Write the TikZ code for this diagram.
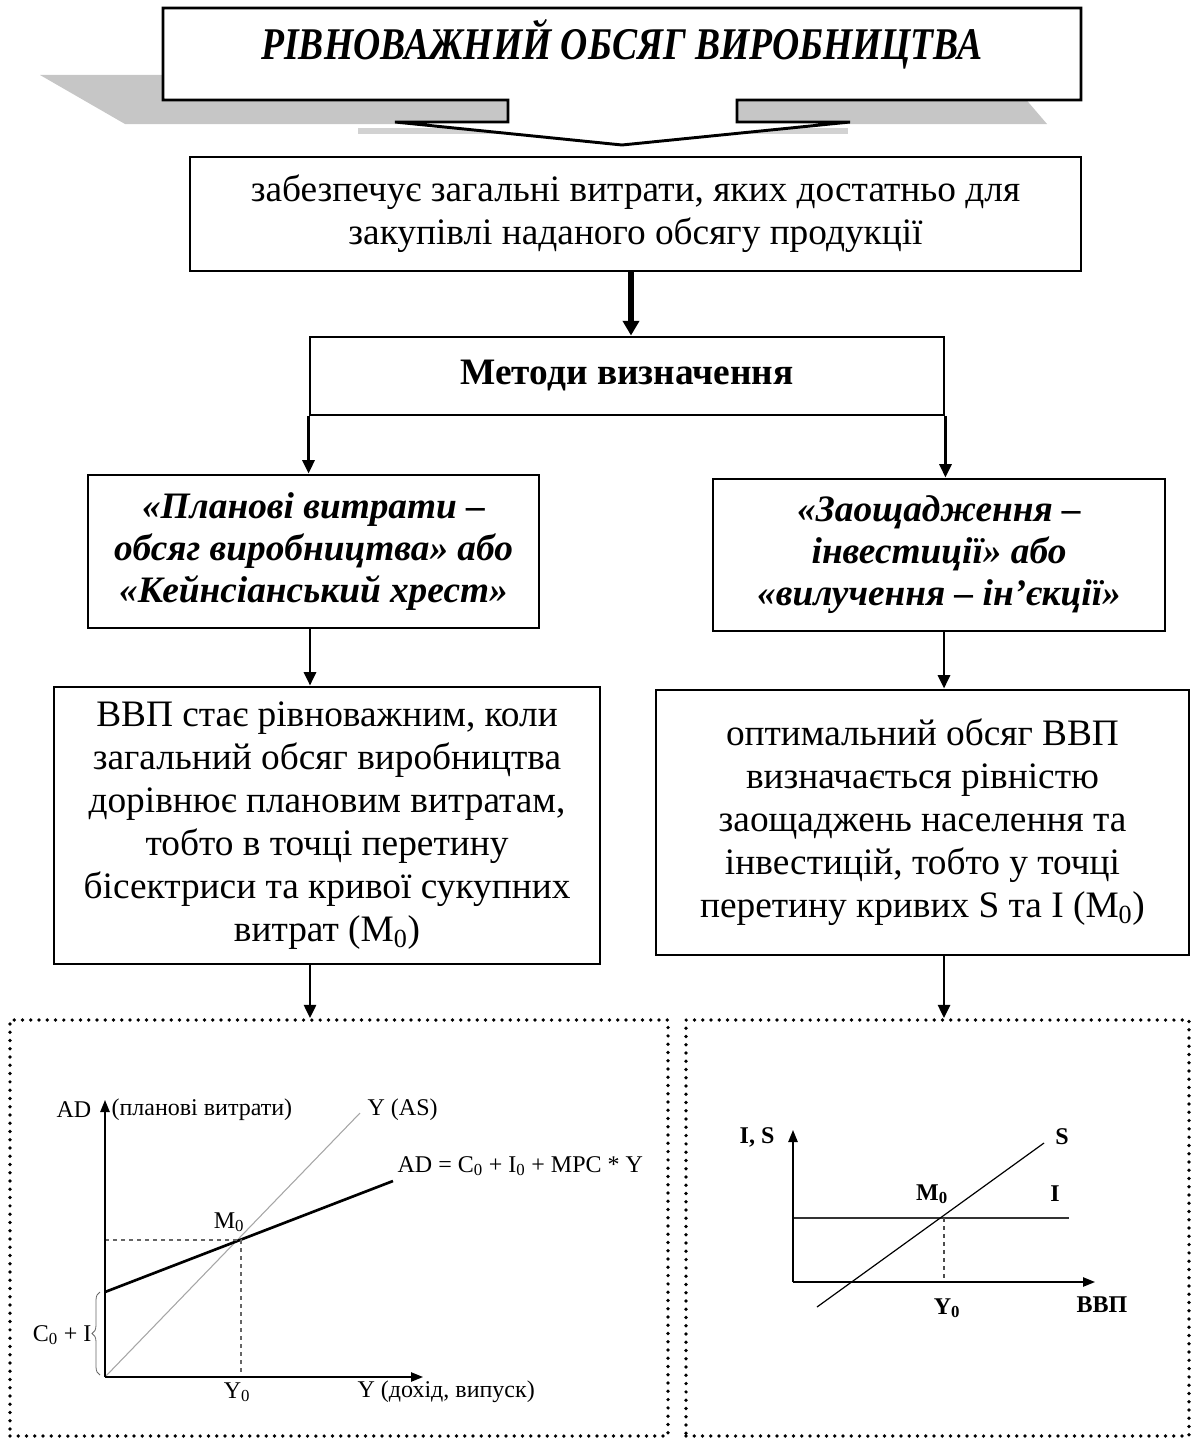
\documentclass[tikz,border=0pt]{standalone}
\usepackage{fontspec}
\setmainfont{Liberation Serif}
\usetikzlibrary{arrows.meta, positioning, decorations.pathreplacing}

\newdimen\px
\px=0.75pt

\begin{document}
\begin{tikzpicture}[
        x=0.75pt, y=-0.75pt,
        box/.style={draw, line width=2.2pt, align=center, inner sep=0pt},
        bodytext/.style={font=\fontsize{28}{32.3}\selectfont},
        headtext/.style={font=\fontsize{28}{31.5}\selectfont\bfseries\itshape},
        dotbox/.style={draw, line width=2.8pt, dash pattern=on 0pt off 6.2pt, line cap=round},
        arr/.style={-{Triangle[length=10pt, width=9pt]}, line width=2.2pt},
        axis/.style={-{Triangle[length=9pt, width=7pt]}, line width=1.1pt},
        lbl/.style={font=\fontsize{18}{21}\selectfont, inner sep=1pt},
        blbl/.style={font=\fontsize{18}{21}\selectfont\bfseries, inner sep=1pt}
        ]
        \useasboundingbox (0,0) rectangle (1190,1438);

        % title callout with its shadow
        \fill[gray!45] (40,75) -- (1005,75) -- (1047,124) -- (125,124) -- cycle;
        \draw[gray!35, line width=4pt] (358,131) -- (848,131);
        \draw[line width=2.2pt, fill=white, line join=miter]
            (163,8) -- (1081,8) -- (1081,100) -- (737,100) -- (737,122) -- (850,122)
            -- (622,145) -- (395,122) -- (508,122) -- (508,100) -- (163,100) -- cycle;
        \node (title) at (622,44) {\fontsize{34}{40}\selectfont\bfseries\itshape
            \scalebox{0.83}[1]{РІВНОВАЖНИЙ ОБСЯГ ВИРОБНИЦТВА}};

        % definition
        \node[box, bodytext, minimum width=891*\px, minimum height=114*\px] (spend) at (635.5,214)
            {забезпечує загальні витрати, яких достатньо для\\закупівлі наданого обсягу продукції};

        \node[box, minimum width=634*\px, minimum height=78*\px, font=\fontsize{28}{32}\selectfont\bfseries]
            (methods) at (627,376) {Методи визначення};

        \draw[-{Triangle[length=11pt, width=12pt]}, line width=3.8pt] (spend.south -| 631,0) -- (methods.north -| 631,0);

        % two methods
        \node[box, headtext, minimum width=451*\px, minimum height=153*\px] (planL) at (313.5,551.5)
            {«Планові витрати –\\обсяг виробництва» або\\«Кейнсіанський хрест»};
        \node[box, headtext, minimum width=452*\px, minimum height=152*\px] (saveR) at (939,555)
            {«Заощадження –\\інвестиції» або\\«вилучення – ін’єкції»};

        \draw[arr] (methods.south west) -- (methods.south west |- planL.north);
        \draw[arr] (methods.south east) -- (methods.south east |- saveR.north);

        \node[box, bodytext, minimum width=546*\px, minimum height=277*\px] (descL) at (327,825.5)
            {ВВП стає рівноважним, коли\\загальний обсяг виробництва\\дорівнює плановим витратам,\\тобто в точці перетину\\бісектриси та кривої сукупних\\витрат (M\textsubscript{0})};
        \node[box, bodytext, minimum width=533*\px, minimum height=265*\px] (descR) at (922.5,822.5)
            {оптимальний обсяг ВВП\\визначається рівністю\\заощаджень населення та\\інвестицій, тобто у точці\\перетину кривих S та I (M\textsubscript{0})};

        \draw[arr] (310,0 |- planL.south) -- (310,0 |- descL.north);
        \draw[arr] (944,0 |- saveR.south) -- (944,0 |- descR.north);

        % graph frames
        \node[dotbox, minimum width=658*\px, minimum height=416*\px] (graphL) at (339,1228) {};
        \node[dotbox, minimum width=503*\px, minimum height=416*\px] (graphR) at (937.5,1228) {};

        \draw[arr] (310,0 |- descL.south) -- (310,0 |- graphL.north);
        \draw[arr] (944,0 |- descR.south) -- (944,0 |- graphR.north);

        % Keynesian cross
        \coordinate (o1) at (105,1377);
        \coordinate (m1) at (241,1240);
        \draw[gray!70, line width=0.8pt] (o1) -- (360,1113);
        \draw[line width=2pt] (105,1292) -- (393,1181);
        \draw[gray!80!black, dashed, line width=0.8pt] (o1 |- m1) -- (m1) -- (m1 |- o1);
        \draw[axis] (o1) -- (105,1100);
        \draw[axis] (o1) -- (423,1377);
        \draw[gray!80!black, line width=0.6pt, decorate, decoration={brace, amplitude=6pt}]
            (100,1375) -- (100,1292);
        \node[lbl] (adL) at (74,1110) {AD};
        \node[lbl, anchor=west] (adT) at (110,1110) {(планові витрати)};
        \node[lbl, anchor=west] (asL) at (366,1110) {Y (AS)};
        \node[lbl, anchor=west] (adEq) at (396,1166) {AD = C\textsubscript{0} + I\textsubscript{0} + MPC * Y};
        \node[lbl] (m1L) at (229,1222) {M\textsubscript{0}};
        \node[lbl] (y1L) at (237,1392) {Y\textsubscript{0}};
        \node[lbl, anchor=west] (yL) at (356,1392) {Y (дохід, випуск)};
        \node[lbl, anchor=east] (ciL) at (93,1335) {C\textsubscript{0} + I};

        % savings - investment
        \coordinate (o2) at (793,1282);
        \coordinate (m2) at (944,1218);
        \draw[gray!40!black, line width=1.3pt] (o2 |- m2) -- (1069,1218);
        \draw[line width=0.9pt] (817,1307) -- (1044,1143);
        \draw[gray!60!black, dashed, line width=1.1pt] (m2) -- (m2 |- o2);
        \draw[axis] (o2) -- (793,1130);
        \draw[axis] (o2) -- (1095,1282);
        \node[blbl] (isL) at (757,1137) {I, S};
        \node[blbl] (sL) at (1062,1137) {S};
        \node[blbl] (m2L) at (932,1194) {M\textsubscript{0}};
        \node[blbl] (iL) at (1055,1194) {I};
        \node[blbl] (y2L) at (947,1308) {Y\textsubscript{0}};
        \node[blbl] (gdpL) at (1102,1305) {ВВП};
\end{tikzpicture}
\end{document}
